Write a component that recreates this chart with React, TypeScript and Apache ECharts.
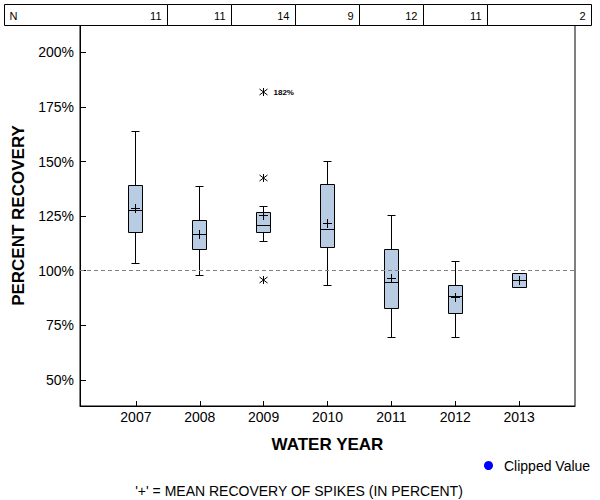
import React, { useEffect, useRef } from "react";
import * as echarts from "echarts";

const years = [2007, 2008, 2009, 2010, 2011, 2012, 2013];
const nCounts = [11, 11, 14, 9, 12, 11, 2];
const whiskerLow = [103.5, 97.6, 113.6, 93.1, 69.6, 69.2, 92.1];
const q1 = [117.3, 109.5, 117.7, 110.5, 82.5, 80.6, 92.1];
const median = [127.5, 116.8, 120.9, 118.8, 94.4, 88.4, 95.7];
const q3 = [139.1, 123.2, 126.9, 139.7, 109.9, 93.4, 98.9];
const whiskerHigh = [164.0, 138.6, 129.5, 150.2, 125.5, 104.0, 98.9];
const meanValues = [128.7, 116.8, 125.3, 121.7, 96.5, 87.6, 95.7];

const outlierYears = [2009, 2009, 2009];
const outlierValues = [142.5, 95.6, 182];
const outlierLabels = ["", "", "182%"];

const yTicks = [50, 75, 100, 125, 150, 175, 200];
const referenceValue = 100;

const FONT = "'Liberation Sans', Arial, sans-serif";

export default function App() {
  const ref = useRef<HTMLDivElement>(null);

  useEffect(() => {
    if (!ref.current) return;
    const chart = echarts.init(ref.current, null, { renderer: "svg" });

    const boxData = years.map((y, i) => [
      y,
      whiskerLow[i],
      q1[i],
      median[i],
      q3[i],
      whiskerHigh[i],
      meanValues[i],
    ]);
    const outlierData = outlierYears.map((y, i) => [y, outlierValues[i], outlierLabels[i]]);
    const nData = years.map((y, i) => [y, nCounts[i]]);

    const crisp = (v: number) => Math.round(v - 0.5) + 0.5;
    const ls = { stroke: "#000", lineWidth: 1, fill: "none" };

    const option: any = {
      animation: false,
      backgroundColor: "#fff",
      textStyle: { fontFamily: FONT },
      grid: {
        left: 80,
        right: 25,
        top: 25,
        bottom: 94,
        show: true,
        borderColor: "#000",
        borderWidth: 1,
        backgroundColor: "transparent",
      },
      xAxis: {
        type: "value",
        min: 2006.125,
        max: 2013.875,
        axisLine: { show: true, lineStyle: { color: "#000", width: 1 } },
        axisTick: {
          show: true,
          inside: true,
          length: 5,
          customValues: years,
          lineStyle: { color: "#000" },
        },
        axisLabel: {
          customValues: years,
          formatter: (v: number) => String(v),
          margin: 4,
          fontSize: 14,
          color: "#000",
          fontFamily: FONT,
        },
        splitLine: { show: false },
        name: "WATER YEAR",
        nameLocation: "middle",
        nameGap: 30,
        nameTextStyle: { fontSize: 17, fontWeight: "bold", color: "#000", fontFamily: FONT },
      },
      yAxis: {
        type: "value",
        min: 38,
        max: 212.6,
        axisLine: { show: true, lineStyle: { color: "#000", width: 1 } },
        axisTick: {
          show: true,
          inside: true,
          length: 6,
          customValues: yTicks,
          lineStyle: { color: "#000" },
        },
        axisLabel: {
          customValues: yTicks,
          formatter: (v: number) => v + "%",
          margin: 6,
          fontSize: 14,
          color: "#000",
          fontFamily: FONT,
        },
        splitLine: { show: false },
        name: "PERCENT RECOVERY",
        nameLocation: "middle",
        nameRotate: 90,
        nameGap: 45,
        nameTextStyle: { fontSize: 17, fontWeight: "bold", color: "#000", fontFamily: FONT },
      },
      graphic: [
        {
          type: "circle",
          shape: { cx: 488.5, cy: 465.5, r: 4.5 },
          style: { fill: "#0000FF" },
        },
        {
          type: "text",
          x: 504,
          y: 466,
          style: {
            text: "Clipped Value",
            font: `14px ${FONT}`,
            fill: "#000",
            verticalAlign: "middle",
          },
        },
        {
          type: "text",
          x: 299,
          y: 491,
          style: {
            text: "'+' = MEAN RECOVERY OF SPIKES (IN PERCENT)",
            font: `14px ${FONT}`,
            fill: "#000",
            align: "center",
            verticalAlign: "middle",
          },
        },
      ],
      series: [
        {
          type: "line",
          data: [],
          z: 1,
          markLine: {
            silent: true,
            symbol: "none",
            label: { show: false },
            lineStyle: { type: [4, 3], color: "#808080", width: 1 },
            data: [{ yAxis: referenceValue }],
          },
        },
        {
          type: "custom",
          z: 3,
          data: boxData,
          encode: { x: 0, y: [1, 2, 3, 4, 5, 6] },
          renderItem: (params: any, api: any) => {
            const x = api.value(0);
            const lo = api.value(1);
            const a = api.value(2);
            const md = api.value(3);
            const b = api.value(4);
            const hi = api.value(5);
            const mn = api.value(6);
            const cx = crisp(api.coord([x, md])[0]);
            const yLo = crisp(api.coord([x, lo])[1]);
            const yQ1 = crisp(api.coord([x, a])[1]);
            const yMd = crisp(api.coord([x, md])[1]);
            const yQ3 = crisp(api.coord([x, b])[1]);
            const yHi = crisp(api.coord([x, hi])[1]);
            const yMn = crisp(api.coord([x, mn])[1]);
            const hw = 7;
            const cap = 4;
            const ph = 4.5;
            const children: any[] = [];
            if (hi > b) {
              children.push({ type: "line", shape: { x1: cx, y1: yQ3, x2: cx, y2: yHi }, style: ls });
              children.push({ type: "line", shape: { x1: cx - cap, y1: yHi, x2: cx + cap, y2: yHi }, style: ls });
            }
            if (lo < a) {
              children.push({ type: "line", shape: { x1: cx, y1: yQ1, x2: cx, y2: yLo }, style: ls });
              children.push({ type: "line", shape: { x1: cx - cap, y1: yLo, x2: cx + cap, y2: yLo }, style: ls });
            }
            children.push({
              type: "rect",
              shape: { x: cx - hw, y: yQ3, width: hw * 2, height: yQ1 - yQ3 },
              style: { fill: "#B8CCE4", stroke: "#000", lineWidth: 1 },
            });
            children.push({ type: "line", shape: { x1: cx - hw, y1: yMd, x2: cx + hw, y2: yMd }, style: ls });
            children.push({ type: "line", shape: { x1: cx - ph, y1: yMn, x2: cx + ph, y2: yMn }, style: ls });
            children.push({ type: "line", shape: { x1: cx, y1: yMn - ph, x2: cx, y2: yMn + ph }, style: ls });
            return { type: "group", children };
          },
        },
        {
          type: "custom",
          z: 4,
          data: outlierData,
          encode: { x: 0, y: 1 },
          renderItem: (params: any, api: any) => {
            const p = api.coord([api.value(0), api.value(1)]);
            const cx = crisp(p[0]);
            const cy = Math.round(p[1]);
            const label = outlierData[params.dataIndex][2] as string;
            const children: any[] = [
              { type: "line", shape: { x1: cx, y1: cy - 4, x2: cx, y2: cy + 4 }, style: ls },
              { type: "line", shape: { x1: cx - 4, y1: cy - 3, x2: cx + 4, y2: cy + 3 }, style: ls },
              { type: "line", shape: { x1: cx - 4, y1: cy + 3, x2: cx + 4, y2: cy - 3 }, style: ls },
            ];
            if (label) {
              children.push({
                type: "text",
                style: {
                  text: label,
                  x: cx + 10,
                  y: cy + 0.5,
                  font: `bold 8px ${FONT}`,
                  fill: "#000",
                  align: "left",
                  verticalAlign: "middle",
                },
              });
            }
            return { type: "group", children };
          },
        },
        {
          type: "custom",
          z: 5,
          clip: false,
          data: nData,
          encode: { x: 0, y: 1 },
          renderItem: (params: any, api: any) => {
            const i = params.dataIndex;
            const x = api.value(0);
            let left = crisp(api.coord([x - 0.5, 100])[0]);
            let right = crisp(api.coord([x + 0.5, 100])[0]);
            if (i === 0) left = 4.5;
            if (i === years.length - 1) right = 591.5;
            const top = 4.5;
            const bottom = 25.5;
            const children: any[] = [
              {
                type: "rect",
                shape: { x: left, y: top, width: right - left, height: bottom - top },
                style: { fill: "#fff", stroke: "#000", lineWidth: 1 },
              },
              {
                type: "text",
                style: {
                  text: String(api.value(1)),
                  x: right - 6,
                  y: 15.5,
                  font: `11px ${FONT}`,
                  fill: "#000",
                  align: "right",
                  verticalAlign: "middle",
                },
              },
            ];
            if (i === 0) {
              children.push({
                type: "text",
                style: {
                  text: "N",
                  x: left + 5,
                  y: 15.5,
                  font: `11px ${FONT}`,
                  fill: "#000",
                  align: "left",
                  verticalAlign: "middle",
                },
              });
            }
            return { type: "group", children };
          },
        },
      ],
    };

    chart.setOption(option);
    return () => chart.dispose();
  }, []);

  return <div ref={ref} style={{ width: 600, height: 500, position: "absolute", left: 0, top: 0 }} />;
}
